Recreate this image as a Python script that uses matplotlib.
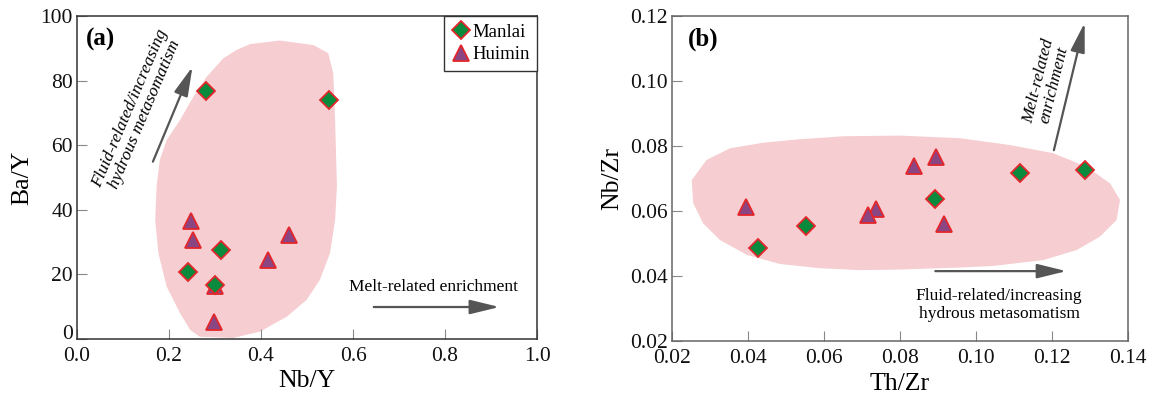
import numpy as np
import matplotlib
matplotlib.use('Agg')
import matplotlib.pyplot as plt
from matplotlib.lines import Line2D

plt.rcParams['font.family'] = ['Liberation Serif', 'DejaVu Serif']

# ---- data ----
# (a) Nb/Y vs Ba/Y
manlai_nby = [0.281, 0.548, 0.312, 0.242, 0.299]
manlai_bay = [76.7, 74.0, 27.6, 20.7, 16.6]
huimin_nby = [0.248, 0.252, 0.299, 0.298, 0.415, 0.460]
huimin_bay = [36.4, 30.5, 16.3, 5.2, 24.5, 32.1]

# pink field outline in panel (a)
field_a_x = [0.376, 0.441, 0.514, 0.546, 0.557, 0.561, 0.565, 0.561, 0.550,
             0.528, 0.499, 0.456, 0.398, 0.339, 0.267, 0.246, 0.224, 0.195,
             0.177, 0.170, 0.173, 0.180, 0.195, 0.224, 0.253, 0.282, 0.318,
             0.347]
field_a_y = [91.3, 92.4, 91.0, 88.5, 82.3, 67.8, 47.2, 36.8, 26.6,
             18.3, 12.1, 6.9, 2.3, 0.3, 0.7, 2.8, 8.0, 16.2,
             26.5, 36.8, 47.2, 55.4, 61.6, 67.8, 75.0, 81.2, 86.9,
             89.5]

# (b) Th/Zr vs Nb/Zr
manlai_thzr = [0.0427, 0.0553, 0.0893, 0.1117, 0.1288]
manlai_nbzr = [0.0487, 0.0555, 0.0636, 0.0718, 0.0726]
huimin_thzr = [0.0395, 0.0737, 0.0715, 0.0837, 0.0896, 0.0917]
huimin_nbzr = [0.0611, 0.0605, 0.0589, 0.0738, 0.0767, 0.0561]

# pink field outline in panel (b)
field_b_x = [0.0252, 0.0291, 0.0353, 0.0440, 0.0528, 0.0650, 0.0800, 0.0958,
             0.1089, 0.1203, 0.1291, 0.1353, 0.1379, 0.1370, 0.1326, 0.1265,
             0.1177, 0.1046, 0.0958, 0.0800, 0.0695, 0.0589, 0.0484, 0.0397,
             0.0326, 0.0282, 0.0256]
field_b_y = [0.0695, 0.0757, 0.0793, 0.0810, 0.0820, 0.0830, 0.0832, 0.0824,
             0.0803, 0.0778, 0.0736, 0.0685, 0.0634, 0.0572, 0.0521, 0.0480,
             0.0449, 0.0431, 0.0426, 0.0420, 0.0418, 0.0424, 0.0437, 0.0465,
             0.0511, 0.0562, 0.0624]

a_xticks = [0.0, 0.2, 0.4, 0.6, 0.8, 1.0]
a_yticks = [0, 20, 40, 60, 80, 100]
b_xticks = [0.02, 0.04, 0.06, 0.08, 0.10, 0.12, 0.14]
b_yticks = [0.02, 0.04, 0.06, 0.08, 0.10, 0.12]

# styles
pink = '#f6cdd0'
green = '#0a8a3c'
purple = '#8a4683'
red = '#e3262b'
arrow_col = '#555555'
diamond_kw = dict(marker='D', ms=9.2, mfc=green, mec=red, mew=1.3, ls='none')
tri_kw = dict(marker='^', ms=11.5, mfc=purple, mec=red, mew=1.3, ls='none')
arrow_kw = dict(arrowstyle='-|>,head_length=0.9,head_width=0.22',
                color=arrow_col, lw=1.6, mutation_scale=20, shrinkA=0, shrinkB=0)

fig = plt.figure(figsize=(11.51, 3.95), dpi=100)
ax1 = fig.add_axes([0.0669, 0.1418, 0.3997, 0.8177])
ax2 = fig.add_axes([0.5838, 0.1367, 0.3962, 0.8228])

# ---- panel (a) ----
ax1.fill(field_a_x, field_a_y, color=pink, lw=0, zorder=1)
ax1.plot(huimin_nby, huimin_bay, zorder=3, **tri_kw)
ax1.plot(manlai_nby, manlai_bay, zorder=4, **diamond_kw)

ax1.annotate('', xy=(0.251, 84.3), xytext=(0.165, 54.9), arrowprops=arrow_kw)
ax1.text(0.132, 70.5, 'Fluid-related/increasing\nhydrous metasomatism',
         rotation=67, ha='center', va='center', fontsize=12.5,
         style='italic', linespacing=1.0, rotation_mode='anchor')
ax1.annotate('', xy=(0.918, 9.9), xytext=(0.645, 9.9), arrowprops=arrow_kw)
ax1.text(0.774, 16.1, 'Melt-related enrichment', ha='center', va='center',
         fontsize=12.5)
ax1.text(0.052, 92.8, '(a)', fontsize=18, fontweight='bold',
         ha='center', va='center')

ax1.set_xlim(0, 1)
ax1.set_ylim(0, 100)
ax1.set_xticks(a_xticks)
ax1.set_yticks(a_yticks)
ax1.set_xticklabels(['%.1f' % v for v in a_xticks])
ax1.set_xlabel('Nb/Y', fontsize=18.5, labelpad=3)
ax1.set_ylabel('Ba/Y', fontsize=18.5, labelpad=5)
# the "0" label sits on the corner in the original
ax1.yaxis.get_major_ticks()[0].label1.set_verticalalignment('baseline')

handles = [Line2D([], [], **diamond_kw), Line2D([], [], **tri_kw)]
leg = ax1.legend(handles, ['Manlai', 'Huimin'], loc='upper right',
                 borderaxespad=0, fancybox=False, edgecolor='#333333',
                 framealpha=1, handletextpad=0.1, handlelength=1.0,
                 borderpad=0.4, labelspacing=0.3, fontsize=13.5)
leg.get_frame().set_linewidth(1.0)

# ---- panel (b) ----
ax2.fill(field_b_x, field_b_y, color=pink, lw=0, zorder=1)
ax2.plot(huimin_thzr, huimin_nbzr, zorder=3, **tri_kw)
ax2.plot(manlai_thzr, manlai_nbzr, zorder=4, **diamond_kw)

ax2.annotate('', xy=(0.1286, 0.1179), xytext=(0.1205, 0.0787), arrowprops=arrow_kw)
ax2.text(0.1185, 0.0995, 'Melt-related\nenrichment', rotation=76,
         ha='center', va='center', fontsize=12.5, style='italic',
         linespacing=1.0, rotation_mode='anchor')
ax2.annotate('', xy=(0.1238, 0.0415), xytext=(0.0893, 0.0415), arrowprops=arrow_kw)
ax2.text(0.1061, 0.0310, 'Fluid-related/increasing\nhydrous metasomatism',
         ha='center', va='center', fontsize=12.5, linespacing=1.15)
ax2.text(0.0282, 0.1128, '(b)', fontsize=18, fontweight='bold',
         ha='center', va='center')

ax2.set_xlim(0.02, 0.14)
ax2.set_ylim(0.02, 0.12)
ax2.set_xticks(b_xticks)
ax2.set_yticks(b_yticks)
ax2.set_xticklabels(['%.2f' % v for v in b_xticks])
ax2.set_yticklabels(['%.2f' % v for v in b_yticks])
ax2.set_xlabel('Th/Zr', fontsize=18.5, labelpad=3)
ax2.set_ylabel('Nb/Zr', fontsize=18.5, labelpad=5)

for ax, sc in ((ax1, '#333333'), (ax2, '#666666')):
    for sp in ax.spines.values():
        sp.set_color(sc)
        sp.set_linewidth(1.1)
    ax.tick_params(direction='in', length=7, width=0.8, color='#888888',
                   labelsize=15.5, labelcolor='#111111')
    ax.tick_params(axis='x', pad=6)
    ax.tick_params(axis='y', pad=3)

fig.savefig('out.png', dpi=100)
